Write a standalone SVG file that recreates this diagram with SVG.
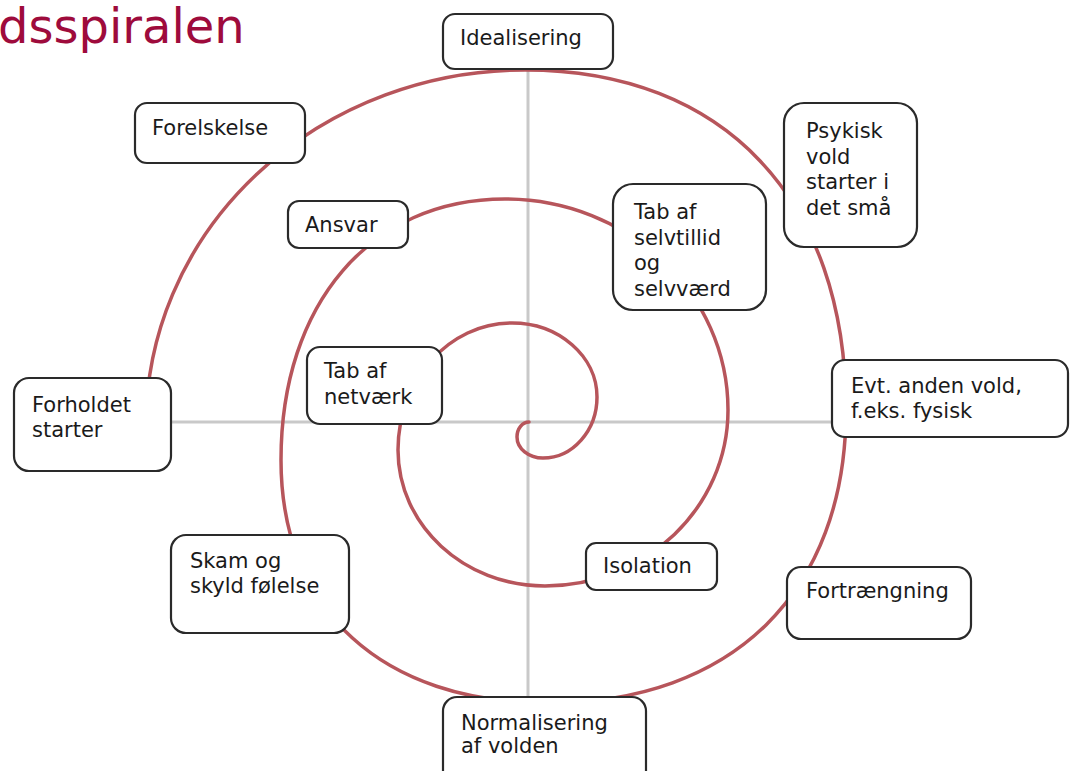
<svg xmlns="http://www.w3.org/2000/svg" width="1070" height="771" viewBox="0 0 1070 771">
<style>
.box{fill:#fff;stroke:#2a2a2a;stroke-width:2.2}
.lbl{font-family:"DejaVu Sans","Liberation Sans",sans-serif;font-size:21px;fill:#1a1a1a}
.axis{stroke:#c9c9c9;stroke-width:3;fill:none}
.spiral{stroke:#b7555b;stroke-width:3.5;fill:none;stroke-linecap:round}
</style>
<rect width="1070" height="771" fill="#fff"/>
<text x="-2" y="43" font-family="DejaVu Sans, Liberation Sans, sans-serif" font-size="48" fill="#9e0b3c">dsspiralen</text>
<g id="connectors">
<line class="axis" x1="528" y1="69" x2="528" y2="697"/>
<line class="axis" x1="171" y1="422" x2="832" y2="422"/>
<path class="spiral" d="M 529 422 C 522.4 422 517 428.8 517 437 C 517 448.6 528.7 458 543 458 C 572.7 458 597 430.6 597 397 C 597 356.3 558.8 323 512 323 C 449.1 323 398 379.9 398 450 C 398 525.1 463.9 586 545 586 C 646 586 728 507.2 728 410 C 728 293.5 628.1 199 505 199 C 370.6 199 281 303.4 281 460 C 281 610.7 382.5 703 548 703 C 732.8 703 846 591.7 846 410 C 846 199.2 724 70 525 70 A 379 355 0 0 0 146 425"/>
</g>
<g id="idealisering"><rect class="box" x="443" y="14" width="170" height="55" rx="12"/><text class="lbl" x="460" y="45">Idealisering</text></g>
<g id="forelskelse"><rect class="box" x="135" y="103" width="170" height="60" rx="12"/><text class="lbl" x="152" y="135">Forelskelse</text></g>
<g id="ansvar"><rect class="box" x="288" y="201" width="120" height="47" rx="11"/><text class="lbl" x="305" y="232">Ansvar</text></g>
<g id="psykisk"><rect class="box" x="784" y="103" width="133" height="144" rx="20"/><text class="lbl"><tspan x="806" y="138">Psykisk</tspan><tspan x="806" y="163.7">vold</tspan><tspan x="806" y="189.4">starter i</tspan><tspan x="806" y="215">det små</tspan></text></g>
<g id="selvtillid"><rect class="box" x="613" y="184" width="153" height="126" rx="20"/><text class="lbl"><tspan x="634" y="219">Tab af</tspan><tspan x="634" y="244.7">selvtillid</tspan><tspan x="634" y="270.4">og</tspan><tspan x="634" y="296">selvværd</tspan></text></g>
<g id="netvaerk"><rect class="box" x="307" y="347" width="135" height="77" rx="13"/><text class="lbl"><tspan x="324" y="378">Tab af</tspan><tspan x="324" y="404">netværk</tspan></text></g>
<g id="forholdet"><rect class="box" x="14" y="378" width="157" height="93" rx="15"/><text class="lbl"><tspan x="32" y="412">Forholdet</tspan><tspan x="32" y="437">starter</tspan></text></g>
<g id="evt"><rect class="box" x="832" y="360" width="236" height="77" rx="13"/><text class="lbl"><tspan x="851" y="393">Evt. anden vold,</tspan><tspan x="851" y="418">f.eks. fysisk</tspan></text></g>
<g id="skam"><rect class="box" x="171" y="535" width="178" height="98" rx="15"/><text class="lbl"><tspan x="190" y="568">Skam og</tspan><tspan x="190" y="593">skyld følelse</tspan></text></g>
<g id="isolation"><rect class="box" x="586" y="543" width="131" height="47" rx="10"/><text class="lbl" x="603" y="573">Isolation</text></g>
<g id="fortraengning"><rect class="box" x="787" y="567" width="184" height="72" rx="14"/><text class="lbl" x="806" y="598">Fortrængning</text></g>
<g id="normalisering"><rect class="box" x="443" y="697" width="203" height="90" rx="14"/><text class="lbl"><tspan x="461" y="730">Normalisering</tspan><tspan x="461" y="753">af volden</tspan></text></g>
</svg>
